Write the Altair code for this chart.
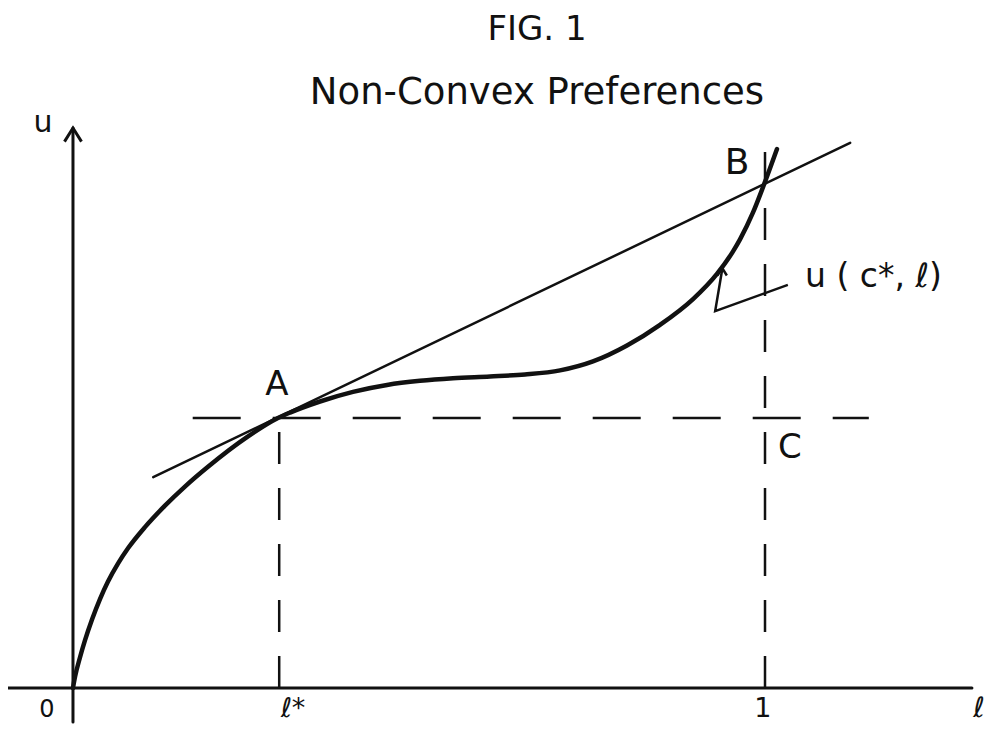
import altair as alt
import pandas as pd

# ---- data (l = leisure, u = utility) ----
# utility curve u(c*, l)
curve_l = [0.0, 0.003, 0.010, 0.0173, 0.0275, 0.039, 0.0506, 0.065, 0.0795,
           0.104, 0.1329, 0.1618, 0.1951, 0.2514, 0.2962, 0.3136, 0.3569, 0.4046,
           0.4538, 0.5014, 0.5491, 0.6026, 0.6532, 0.7038, 0.7514, 0.8006, 0.8483,
           0.8960, 0.9306, 0.9538, 0.9639, 0.9827, 0.9971, 1.0173]
curve_u = [0.0, 0.042, 0.112, 0.1762, 0.2537, 0.3296, 0.3946, 0.4608, 0.5174,
           0.5958, 0.6753, 0.7461, 0.8194, 0.9292, 1.0000, 1.0200, 1.0611, 1.0969,
           1.1225, 1.1377, 1.1472, 1.1536, 1.1612, 1.1764, 1.2097, 1.2687, 1.3450,
           1.4404, 1.5338, 1.6173, 1.6617, 1.7613, 1.8549, 1.9963]

# straight line through A and B
tangent_l = [0.116, 1.123]
tangent_u = [0.781, 2.019]

# key points
l_star = 0.298
u_A = 1.0
l_one = 1.0
u_B_top = 1.985

# axes extents
x_axis_l = [-0.094, 1.299]
y_axis_u = [-0.126, 2.074]

# dashed guides
h_dash_l = [0.173, 1.150]

# pointer from label to curve
pointer_l = [1.033, 0.928, 0.938]
pointer_u = [1.493, 1.396, 1.548]

# labels (centred)
label_text = ["FIG. 1", "Non-Convex Preferences", "u", "A", "B", "C",
              "0", "ℓ*", "1", "ℓ"]
label_l = [0.6705, 0.6705, -0.0434, 0.2948, 0.9595, 1.0361, -0.0376,
           0.3179, 0.997, 1.3092]
label_u = [2.437, 2.204, 2.093, 1.122, 1.944, 0.889, -0.0815, -0.0778,
           -0.0778, -0.0778]
label_size = [34, 37, 30, 34, 36, 34, 24, 27, 27, 28]

# curve label (left aligned)
curve_label = ["u ( c*, ℓ)"]
curve_label_l = [1.0578]
curve_label_u = [1.522]
curve_label_size = [33]

# ---- scales ----
xs = alt.Scale(domain=[-0.0939, 1.3179], nice=False, zero=False)
ys = alt.Scale(domain=[-0.1370, 2.5185], nice=False, zero=False)

BLACK = "#111111"

curve_df = pd.DataFrame({"l": curve_l, "u": curve_u, "o": range(len(curve_l))})
tangent_df = pd.DataFrame({"l": tangent_l, "u": tangent_u, "o": [0, 1]})
pointer_df = pd.DataFrame({"l": pointer_l, "u": pointer_u, "o": [0, 1, 2]})

axes_df = pd.DataFrame({
    "l": [x_axis_l[0], 0.0],
    "l2": [x_axis_l[1], 0.0],
    "u": [0.0, y_axis_u[0]],
    "u2": [0.0, y_axis_u[1]],
})
vdash_df = pd.DataFrame({
    "l": [l_star, l_one],
    "u": [0.0, 0.0],
    "u2": [u_A, u_B_top],
})
hdash_df = pd.DataFrame({"l": [h_dash_l[0]], "l2": [h_dash_l[1]], "u": [u_A]})

arrow_df = pd.DataFrame({"l": [0.0], "u": [y_axis_u[1]]})
small_arrow_df = pd.DataFrame({"l": [pointer_l[-1]], "u": [pointer_u[-1] + 0.008]})

labels_df = pd.DataFrame({
    "text": label_text, "l": label_l, "u": label_u, "size": label_size,
})
curve_label_df = pd.DataFrame({
    "text": curve_label, "l": curve_label_l, "u": curve_label_u,
    "size": curve_label_size,
})


def X(f="l"):
    return alt.X(f"{f}:Q", scale=xs, axis=None)


def Y(f="u"):
    return alt.Y(f"{f}:Q", scale=ys, axis=None)


axes = alt.Chart(axes_df).mark_rule(color=BLACK, strokeWidth=3, strokeCap="round").encode(
    x=X(), x2="l2:Q", y=Y(), y2="u2:Q"
)

vdash = alt.Chart(vdash_df).mark_rule(
    color=BLACK, strokeWidth=2.5, strokeDash=[32, 24]
).encode(x=X(), y=Y(), y2="u2:Q")

hdash = alt.Chart(hdash_df).mark_rule(
    color=BLACK, strokeWidth=2.5, strokeDash=[48, 32]
).encode(x=X(), x2="l2:Q", y=Y())

tangent = alt.Chart(tangent_df).mark_line(
    color=BLACK, strokeWidth=2.5, strokeCap="round"
).encode(x=X(), y=Y(), order="o:Q")

curve = alt.Chart(curve_df).mark_line(
    color=BLACK, strokeWidth=4.5, interpolate="monotone", strokeCap="round"
).encode(x=X(), y=Y(), order="o:Q")

pointer = alt.Chart(pointer_df).mark_line(
    color=BLACK, strokeWidth=2.5, strokeJoin="miter"
).encode(x=X(), y=Y(), order="o:Q")

arrow = alt.Chart(arrow_df).mark_point(
    shape="M-1,1.6L0,0L1,1.6", filled=False, color=BLACK, strokeWidth=3,
    size=289, opacity=1
).encode(x=X(), y=Y())

small_arrow = alt.Chart(small_arrow_df).mark_point(
    shape="M-1,1.6L0,0L1,1.6", filled=False, color=BLACK, strokeWidth=2.5,
    size=90, opacity=1
).encode(x=X(), y=Y())

labels = alt.Chart(labels_df).mark_text(
    color=BLACK, font="DejaVu Sans", baseline="middle", align="center"
).encode(
    x=X(), y=Y(), text="text:N",
    size=alt.Size("size:Q", scale=None, legend=None),
)

curve_labels = alt.Chart(curve_label_df).mark_text(
    color=BLACK, font="DejaVu Sans", baseline="middle", align="left"
).encode(
    x=X(), y=Y(), text="text:N",
    size=alt.Size("size:Q", scale=None, legend=None),
)

chart = alt.layer(
    axes, vdash, hdash, tangent, curve, pointer, arrow, small_arrow, labels,
    curve_labels,
).properties(
    width=977, height=717,
    autosize=alt.AutoSizeParams(type="none"),
    padding=0,
    background="white",
).configure_view(strokeWidth=0)

chart.save("out.html", embed_options={"renderer": "svg", "actions": False})
